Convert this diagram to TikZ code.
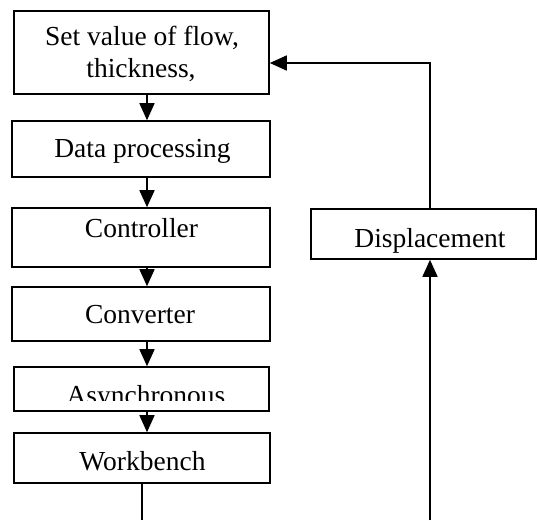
\documentclass[tikz,border=0pt]{standalone}
\usepackage{fontspec}
\setmainfont{Liberation Serif}
\usetikzlibrary{arrows.meta}
\begin{document}
\begin{tikzpicture}[x=1pt,y=-1pt,
  box/.style={draw=black,line width=1.6pt,rectangle,inner sep=0pt},
  txt/.style={inner sep=0pt,anchor=base,font=\fontsize{27.5}{32}\selectfont,align=center},
  conn/.style={line width=1.6pt},
  arr/.style={conn,-{Triangle[length=17pt,width=15pt]}}]
\useasboundingbox (0,0) rectangle (537,520);
% boxes
\node[box,minimum width=255pt,minimum height=83pt] (set) at (141.5,52.5) {};
\node[box,minimum width=258pt,minimum height=56pt] (data) at (141,149) {};
\node[box,minimum width=258pt,minimum height=59pt] (ctrl) at (141,237.5) {};
\node[box,minimum width=258pt,minimum height=54pt] (conv) at (141,314) {};
\node[box,minimum width=255pt,minimum height=44pt] (async) at (141.5,389) {};
\node[box,minimum width=256pt,minimum height=50pt] (work) at (142,458) {};
\node[box,minimum width=225pt,minimum height=50pt] (disp) at (423.5,234) {};
% texts
\node[txt] (set-t1) at (142,45) {Set value of flow,};
\node[txt] (set-t2) at (141,77) {thickness,};
\node[txt] (data-t) at (142.5,157) {Data processing};
\node[txt] (ctrl-t) at (141.5,237) {Controller};
\node[txt] (conv-t) at (140,323) {Converter};
\begin{scope}
  \clip (0,0) rectangle (537,400.5);
  \node[txt] (async-t) at (146,404) {Asynchronous};
\end{scope}
\node[txt] (work-t) at (142.5,470) {Workbench};
\node[txt] (disp-t) at (430,247) {Displacement};
% helper coordinates
\coordinate (ax) at (147,0);
\coordinate (fb) at (430,63);
\coordinate (b1) at (430,520);
\coordinate (b2) at (142,520);
% vertical arrows
\draw[arr] (set.south -| ax) -- (data.north -| ax);
\draw[arr] (data.south -| ax) -- (ctrl.north -| ax);
\draw[arr] (ctrl.south -| ax) -- (conv.north -| ax);
\draw[arr] (conv.south -| ax) -- (async.north -| ax);
\draw[arr] (async.south -| ax) -- (work.north -| ax);
% feedback
\draw[arr] (disp.north -| fb) -- (fb) -- (set.east |- fb);
\draw[arr] (b1) -- (b1 |- disp.south);
\draw[conn] (work.south -| b2) -- (b2);
\end{tikzpicture}
\end{document}
